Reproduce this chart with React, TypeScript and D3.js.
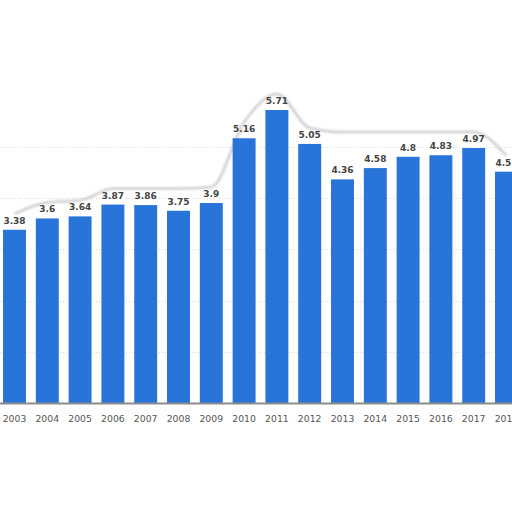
import {useEffect, useRef} from "react";
import * as d3 from "d3";

const years = ["2003", "2004", "2005", "2006", "2007", "2008", "2009", "2010", "2011", "2012", "2013", "2014", "2015", "2016", "2017", "2018"];
const values = [3.38, 3.6, 3.64, 3.87, 3.86, 3.75, 3.9, 5.16, 5.71, 5.05, 4.36, 4.58, 4.8, 4.83, 4.97, 4.51];
const valueLabels = ["3.38", "3.6", "3.64", "3.87", "3.86", "3.75", "3.9", "5.16", "5.71", "5.05", "4.36", "4.58", "4.8", "4.83", "4.97", "4.51"];

const width = 512;
const height = 512;

const App = () => {
    const svgRef = useRef<SVGSVGElement | null>(null);

    useEffect(() => {
        const svg = d3.select(svgRef.current);
        svg.selectAll("*").remove();

        const x = d3.scaleBand<string>()
            .domain(years)
            .range([-1.9, 522.9])
            .paddingInner(0.3)
            .paddingOuter(0.15);

        const y = d3.scaleLinear()
            .domain([0, 6])
            .range([403.5, 95.1]);

        const defs = svg.append("defs");
        defs.append("filter")
            .attr("id", "smudge")
            .attr("x", "-20%").attr("y", "-50%")
            .attr("width", "140%").attr("height", "200%")
            .append("feGaussianBlur")
            .attr("stdDeviation", 1.3);

        // grid lines
        svg.append("g")
            .selectAll("line")
            .data(y.ticks(6).filter(t => t > 0 && t < 6))
            .enter()
            .append("line")
            .attr("x1", 0)
            .attr("x2", width)
            .attr("y1", d => Math.round(y(d)) + 0.5)
            .attr("y2", d => Math.round(y(d)) + 0.5)
            .attr("stroke", "#d9d9d9")
            .attr("stroke-width", 1)
            .attr("stroke-dasharray", "1,2");

        // gray halo hugging the labels (scan artefact): skyline of running maxima
        const leftMax = values.map((_, i) => d3.max(values.slice(0, i + 1)) ?? 0);
        const rightMax = values.map((_, i) => d3.max(values.slice(i)) ?? 0);
        const skyline = values.map((_, i) => Math.min(leftMax[i], rightMax[i]));
        const halo = d3.line<number>()
            .x((_, i) => (x(years[i]) ?? 0) + x.bandwidth() / 2)
            .y(d => y(d) - 16)
            .curve(d3.curveMonotoneX);
        svg.append("path")
            .attr("d", halo(skyline))
            .attr("fill", "none")
            .attr("stroke", "#cdcdcd")
            .attr("stroke-width", 2.5)
            .attr("filter", "url(#smudge)");

        // bars
        svg.append("g")
            .selectAll("rect")
            .data(values)
            .enter()
            .append("rect")
            .attr("x", (_, i) => x(years[i]) ?? 0)
            .attr("y", d => y(d))
            .attr("width", x.bandwidth())
            .attr("height", d => y(0) - y(d))
            .attr("fill", "#2874d8");

        // baseline
        svg.append("line")
            .attr("x1", 0)
            .attr("x2", width)
            .attr("y1", y(0))
            .attr("y2", y(0))
            .attr("stroke", "#8c8c8c")
            .attr("stroke-width", 2);

        // value labels
        svg.append("g")
            .selectAll("text")
            .data(values)
            .enter()
            .append("text")
            .attr("x", (_, i) => (x(years[i]) ?? 0) + x.bandwidth() / 2)
            .attr("y", d => y(d) - 6)
            .attr("text-anchor", "middle")
            .attr("font-family", "DejaVu Sans")
            .attr("font-weight", "bold")
            .attr("font-size", 9)
            .attr("fill", "#444")
            .text((_, i) => valueLabels[i]);

        // x axis labels
        svg.append("g")
            .selectAll("text")
            .data(years)
            .enter()
            .append("text")
            .attr("x", d => (x(d) ?? 0) + x.bandwidth() / 2)
            .attr("y", 421.5)
            .attr("text-anchor", "middle")
            .attr("font-family", "DejaVu Sans")
            .attr("font-size", 9.3)
            .attr("fill", "#555")
            .text(d => d);
    }, []);

    return (
        <svg
            ref={svgRef}
            width={width}
            height={height}
            style={{position: "absolute", left: 0, top: 0, background: "#fff"}}
        />
    );
};

export default App;
